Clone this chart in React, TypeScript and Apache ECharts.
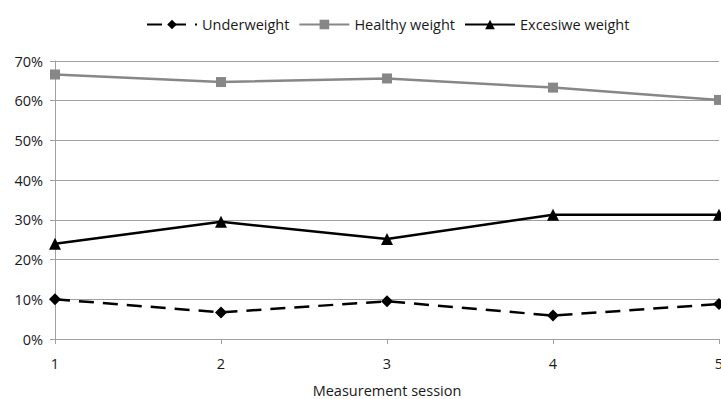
import React, { useEffect, useRef } from "react";
import * as echarts from "echarts";

const sessions = ["1", "2", "3", "4", "5"];
const underweight = [10.0, 6.7, 9.5, 5.9, 8.8];
const healthy = [66.6, 64.7, 65.6, 63.3, 60.2];
const excessive = [24.0, 29.5, 25.2, 31.3, 31.3];

const FONT = "'Open Sans', 'Liberation Sans', sans-serif";
const TXT = "#1a1a1a";

export default function App() {
  const ref = useRef<HTMLDivElement>(null);
  useEffect(() => {
    if (!ref.current) return;
    const chart = echarts.init(ref.current, undefined, { renderer: "svg" });
    chart.setOption({
      animation: false,
      textStyle: { fontFamily: FONT },
      legend: {
        top: 12,
        left: 141,
        itemWidth: 50,
        itemHeight: 12,
        itemGap: 9,
        textStyle: { fontSize: 14.5, color: TXT, fontFamily: FONT },
        data: ["Underweight", "Healthy weight", "Excesiwe weight"],
      },
      grid: { left: 55, right: 2, top: 61, bottom: 60, containLabel: false, outerBoundsMode: "none" },
      xAxis: {
        type: "category",
        data: sessions,
        boundaryGap: false,
        name: "Measurement session",
        nameLocation: "middle",
        nameGap: 44,
        nameTextStyle: { fontSize: 14.5, color: TXT, fontFamily: FONT },
        axisLine: { lineStyle: { color: "#a0a0a0", width: 1 } },
        axisTick: { show: true, length: 5, lineStyle: { color: "#a0a0a0" } },
        axisLabel: { fontSize: 14.5, color: TXT, margin: 17 },
      },
      yAxis: {
        type: "value",
        min: 0,
        max: 70,
        interval: 10,
        axisLine: { show: true, lineStyle: { color: "#a0a0a0", width: 1 } },
        axisTick: { show: true, length: 5, lineStyle: { color: "#a0a0a0" } },
        splitLine: { lineStyle: { color: "#a0a0a0", width: 1 } },
        axisLabel: { fontSize: 14.5, color: TXT, margin: 12, formatter: "{value}%" },
      },
      series: [
        {
          name: "Underweight",
          type: "line",
          data: underweight,
          symbol: "diamond",
          symbolSize: 12,
          itemStyle: { color: "#000" },
          lineStyle: { color: "#000", width: 2.5, type: [15, 9] },
          z: 3,
        },
        {
          name: "Healthy weight",
          type: "line",
          data: healthy,
          symbol: "rect",
          symbolSize: 10,
          itemStyle: { color: "#878787" },
          lineStyle: { color: "#878787", width: 2.5 },
          z: 2,
        },
        {
          name: "Excesiwe weight",
          type: "line",
          data: excessive,
          symbol: "triangle",
          symbolSize: 12,
          itemStyle: { color: "#000" },
          lineStyle: { color: "#000", width: 2.5 },
          z: 3,
        },
      ],
    });
    return () => chart.dispose();
  }, []);
  return <div ref={ref} style={{ width: 721, height: 399, position: "absolute", left: 0, top: 0 }} />;
}
